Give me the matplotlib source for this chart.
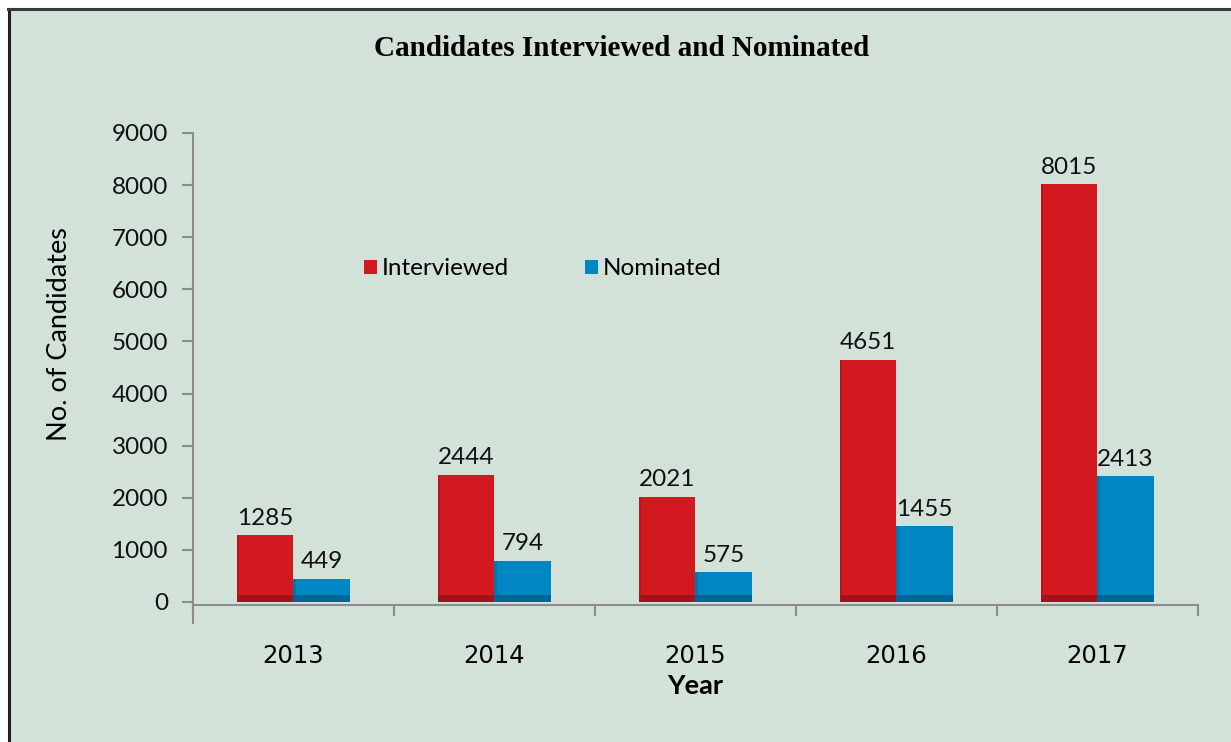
import matplotlib.pyplot as plt
import matplotlib.patches as mpatches
import numpy as np

years = ["2013", "2014", "2015", "2016", "2017"]
interviewed = [1285, 2444, 2021, 4651, 8015]
nominated = [449, 794, 575, 1455, 2413]

bg = "#d2e2d8"
red = "#d31920"
blue = "#0087c3"
red_dark = "#a5111a"
blue_dark = "#006698"

font = "Lato"
fs = 17.5

fig = plt.figure(figsize=(12.31, 7.42), dpi=100)
fig.patch.set_facecolor("white")

# panel background with left/top frame
panel = mpatches.Rectangle((0.0065, 0), 1.0, 0.9885, transform=fig.transFigure,
                           facecolor=bg, edgecolor="none", zorder=-10)
fig.patches.append(panel)
fig.add_artist(plt.Line2D([0.0073, 0.0073], [0, 0.988], transform=fig.transFigure,
                          color="#231f20", lw=2.2))
fig.add_artist(plt.Line2D([0.0065, 1.0], [0.9875, 0.9875], transform=fig.transFigure,
                          color="#3a3a3a", lw=2.2))

ax = fig.add_axes([0.1568, 0.1887, 0.8162, 0.6321])
ax.set_facecolor("none")

x = np.arange(len(years))
w = 0.28
b1 = ax.bar(x - w / 2, interviewed, w, color=red, label="Interviewed", zorder=3)
b2 = ax.bar(x + w / 2, nominated, w, color=blue, label="Nominated", zorder=3)

# simple bevel shading on each bar
for bars, dark in ((b1, red_dark), (b2, blue_dark)):
    for p in bars:
        x0, wd, h = p.get_x(), p.get_width(), p.get_height()
        ax.add_patch(mpatches.Rectangle((x0, 0), wd, min(130, h * 0.3),
                                        facecolor=dark, edgecolor="none", zorder=4))
        ax.add_patch(mpatches.Rectangle((x0, 0), wd * 0.04, h,
                                        facecolor=dark, edgecolor="none", alpha=0.5, zorder=4))

for bars, vals in ((b1, interviewed), (b2, nominated)):
    for p, v in zip(bars, vals):
        ax.text(p.get_x() + p.get_width() / 2, v + 125, str(v), ha="center", va="bottom",
                fontsize=fs, family=font, color="#111111")

ax.set_xlim(-0.5, len(years) - 0.5)
ax.set_ylim(0, 9000)
ax.set_yticks(range(0, 9001, 1000))
ax.set_xticks(x)
ax.set_xticks(np.arange(-0.5, len(years)), minor=True)
ax.set_xticklabels(years)
ax.tick_params(axis="x", which="major", length=0, pad=28, labelsize=fs)
ax.tick_params(axis="x", which="minor", length=8, color="#8c8c8c", width=1.5, direction="out")
ax.tick_params(axis="y", length=8, color="#8c8c8c", width=1.5, pad=10, labelsize=fs)
for lab in ax.get_xticklabels() + ax.get_yticklabels():
    lab.set_family(font)
    lab.set_color("#111111")

for s in ("top", "right"):
    ax.spines[s].set_visible(False)
for s in ("left", "bottom"):
    ax.spines[s].set_color("#8c8c8c")
    ax.spines[s].set_linewidth(1.5)
ax.spines["left"].set_bounds(-400, 9000)
ax.spines["bottom"].set_position(("data", -60))

ax.set_ylabel("No. of Candidates", family=font, fontsize=19.5)
ax.yaxis.set_label_coords(-0.12, 0.571)
ax.set_xlabel("Year", family=font, fontsize=19.5, fontweight="bold", labelpad=4)

fig.text(0.505, 0.935, "Candidates Interviewed and Nominated", ha="center", va="center",
         family="Liberation Serif", fontweight="bold", fontsize=21)

ax.legend(loc="center left", bbox_to_anchor=(0.17, 0.71), ncol=2, frameon=False,
          borderaxespad=0, borderpad=0,
          handlelength=0.55, handleheight=0.55, handletextpad=0.2, columnspacing=3.1,
          prop={"family": font, "size": fs})

fig.savefig("out.png", dpi=100, facecolor=fig.get_facecolor())
